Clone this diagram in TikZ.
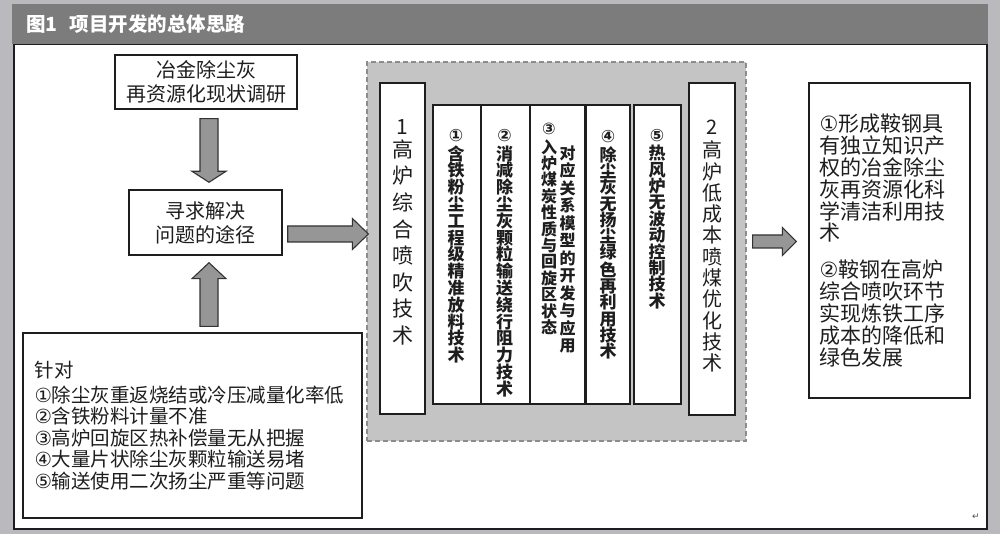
\documentclass[tikz,border=0pt]{standalone}
\usepackage{fontspec}
\setmainfont{Noto Sans CJK SC}
\newfontfamily\symfont{DejaVu Sans}
\usetikzlibrary{calc}
\definecolor{bgc}{RGB}{186,186,190}
\definecolor{titlec}{RGB}{124,124,124}
\definecolor{regc}{RGB}{196,196,196}
\definecolor{regd}{RGB}{140,140,140}
\definecolor{arrc}{RGB}{150,150,150}
\definecolor{inkc}{RGB}{30,30,30}
\newcommand\fs[2]{\fontsize{#1}{#2}\selectfont}
\newcommand\cn[1]{{\symfont #1}}
% block arrows: #1 start, #2 tip, #3 half shaft, #4 half head, #5 head length
\newcommand\harrow[5]{\draw[barrow] let \p1=(#1), \p2=(#2) in
  (\x1,\y1+#3) -- (\x2-#5,\y1+#3) -- (\x2-#5,\y1+#4) -- (\x2,\y1) --
  (\x2-#5,\y1-#4) -- (\x2-#5,\y1-#3) -- (\x1,\y1-#3) -- cycle;}
\newcommand\darrow[5]{\draw[barrow] let \p1=(#1), \p2=(#2) in
  (\x1-#3,\y1) -- (\x1-#3,\y2+#5) -- (\x1-#4,\y2+#5) -- (\x1,\y2) --
  (\x1+#4,\y2+#5) -- (\x1+#3,\y2+#5) -- (\x1+#3,\y1) -- cycle;}
\newcommand\uarrow[5]{\draw[barrow] let \p1=(#1), \p2=(#2) in
  (\x1-#3,\y1) -- (\x1-#3,\y2-#5) -- (\x1-#4,\y2-#5) -- (\x1,\y2) --
  (\x1+#4,\y2-#5) -- (\x1+#3,\y2-#5) -- (\x1+#3,\y1) -- cycle;}
\begin{document}
\begin{tikzpicture}[x=1pt,y=-1pt,
  box/.style={draw=inkc, line width=1.4pt, fill=white, text=inkc, inner sep=0pt},
  colbox/.style={draw=inkc, line width=1.2pt, fill=white, inner sep=0pt},
  vtxt/.style={anchor=north, align=center, inner sep=0pt, text=inkc},
  barrow/.style={draw=black!80, line width=1.1pt, fill=arrc, line join=miter}]
\fill[bgc] (0,0) rectangle (1000,534);
\useasboundingbox (0,0) rectangle (1000,534);
% frame
\node[fill=titlec, minimum width=976, minimum height=40, anchor=north west, inner sep=0] (T) at (12,4) {};
\node[anchor=west, text=white, font=\bfseries\fs{19.5}{22}, inner sep=0] (Tt) at (26,24) {图1\hspace{12pt}项目开发的总体思路};
\node[draw=inkc, line width=1.5pt, fill=white, minimum width=973, minimum height=484, anchor=north west, inner sep=0] (W) at (13,44) {};
% left part
\node[box, minimum width=182, minimum height=54, align=center, font=\fs{20}{24}] (A) at (206,82) {冶金除尘灰\\再资源化现状调研};
\node[box, minimum width=153, minimum height=65, align=center, font=\fs{20}{24}] (B) at (205.5,222.5) {寻求解决\\问题的途径};
\node[box, minimum width=339, minimum height=185, align=left, text width=316, font=\fs{19.5}{21.5}] (C) at (192.5,425.5) {针对\\[3pt]\cn{①}除尘灰重返烧结或冷压减量化率低\\\cn{②}含铁粉料计量不准\\\cn{③}高炉回旋区热补偿量无从把握\\\cn{④}大量片状除尘灰颗粒输送易堵\\\cn{⑤}输送使用二次扬尘严重等问题};
% middle region
\node[draw=regd, dash pattern=on 5pt off 3pt, line width=1.2pt, fill=regc, minimum width=379, minimum height=379, inner sep=0] (D) at (556.5,251.5) {};
\node[colbox, minimum width=45, minimum height=331] (E1) at (402.5,248.5) {};
\node[vtxt, font=\fs{21}{26.6}] (E1t) at (402.5,119) {1\\[-3.5pt]高\\炉\\综\\合\\喷\\吹\\技\\术};
\node[colbox, minimum width=48, minimum height=299] (K1) at (457,254.5) {};
\node[colbox, minimum width=49, minimum height=299] (K2) at (505.5,254.5) {};
\node[colbox, minimum width=55, minimum height=299] (K3) at (557.5,254.5) {};
\node[colbox, minimum width=44, minimum height=299] (K4) at (608,254.5) {};
\node[colbox, minimum width=47, minimum height=299] (K5) at (657.5,254.5) {};
\node[vtxt, font=\bfseries\fs{17}{16.8}] (K1t) at (456,129) {\cn{①}\\[2pt]含\\铁\\粉\\尘\\工\\程\\级\\精\\准\\放\\料\\技\\术};
\node[vtxt, font=\bfseries\fs{17}{16.8}] (K2t) at (504.5,129) {\cn{②}\\[2pt]消\\减\\除\\尘\\灰\\颗\\粒\\输\\送\\绕\\行\\阻\\力\\技\\术};
\node[vtxt, font=\bfseries\fs{16}{16.4}] (K3a) at (549,123) {\cn{③}\\[2pt]入\\炉\\煤\\炭\\性\\质\\与\\回\\旋\\区\\状\\态};
\node[vtxt, font=\bfseries\fs{16}{17.5}] (K3b) at (567.5,145.5) {对\\应\\关\\系\\模\\型\\的\\开\\发\\与\\应\\用};
\node[vtxt, font=\bfseries\fs{17}{16.3}] (K4t) at (608,130.5) {\cn{④}\\[2pt]除\\尘\\灰\\无\\扬\\尘\\绿\\色\\再\\利\\用\\技\\术};
\node[vtxt, font=\bfseries\fs{17}{16.4}] (K5t) at (657,129) {\cn{⑤}\\[2pt]热\\风\\炉\\无\\波\\动\\控\\制\\技\\术};
\node[colbox, minimum width=46, minimum height=332] (E2) at (712,249) {};
\node[vtxt, font=\fs{20}{21.3}] (E2t) at (712,119.5) {2\\[2.2pt]高\\炉\\低\\成\\本\\喷\\煤\\优\\化\\技\\术};
% right part
\node[box, minimum width=161, minimum height=315, align=left, text width=140, font=\fs{21}{21.8}] (F) at (889.5,240.5) {\cn{①}形成鞍钢具\\有独立知识产\\权的冶金除尘\\灰再资源化科\\学清洁利用技\\术\\[15pt]\cn{②}鞍钢在高炉\\综合喷吹环节\\实现炼铁工序\\成本的降低和\\绿色发展};
\node[font=\symfont\fs{9}{10}, text=black!70, inner sep=0] (rm) at (976,517) {↵};
% arrows
\coordinate (d1s) at ($(A.south)+(3,9)$);
\coordinate (d1e) at ($(B.north)+(0,-7)$);
\darrow{d1s}{d1e}{9pt}{17pt}{11pt}
\coordinate (u1s) at ($(C.north)+(16.5,-6)$);
\coordinate (u1e) at ($(B.south)+(0,7)$);
\uarrow{u1s}{u1e}{9pt}{17pt}{16pt}
\coordinate (r1s) at ($(B.east)+(5,11.5)$);
\coordinate (r1e) at ($(D.west)+(2,0)$);
\harrow{r1s}{r1e}{8pt}{15.5pt}{16pt}
\coordinate (r2s) at ($(D.east)+(6,-10)$);
\coordinate (r2e) at ($(F.west)+(-12,0)$);
\harrow{r2s}{r2e}{6.5pt}{14pt}{14pt}
\end{tikzpicture}
\end{document}
